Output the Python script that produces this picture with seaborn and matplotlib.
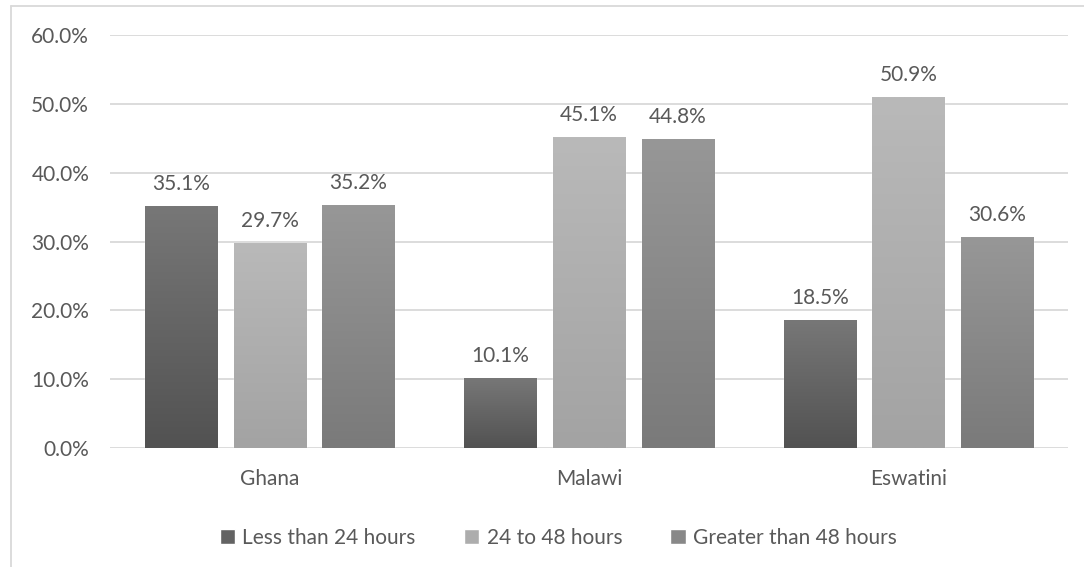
import matplotlib
matplotlib.use("Agg")
import matplotlib.pyplot as plt
from matplotlib.colors import LinearSegmentedColormap
from matplotlib.lines import Line2D
import numpy as np
import pandas as pd
import seaborn as sns

countries   = ["Ghana", "Malawi", "Eswatini"]
durations   = ["Less than 24 hours", "24 to 48 hours", "Greater than 48 hours"]
less_24     = [35.1, 10.1, 18.5]
from_24_48  = [29.7, 45.1, 50.9]
greater_48  = [35.2, 44.8, 30.6]

# top / bottom colours of each bar gradient
grad_top    = ["#777777", "#b9b9b9", "#979797"]
grad_bottom = ["#525252", "#a3a3a3", "#7a7a7a"]
mid_colors  = ["#636363", "#adadad", "#888888"]
text_color  = "#595959"
grid_color  = "#d9d9d9"
fs          = 15

df = pd.DataFrame({
    "Country"  : countries * 3,
    "Duration" : [d for d in durations for _ in countries],
    "Share"    : [v / 100 for v in less_24 + from_24_48 + greater_48],
})

sns.set_style("white")
plt.rcParams["font.family"] = ["Lato", "DejaVu Sans"]

fig = plt.figure(figsize=(10.84, 5.67), dpi=100)
ax = fig.add_axes([110 / 1084, 1 - 448 / 567, (1068 - 110) / 1084, (448 - 35) / 567])

sns.barplot(data=df, x="Country", y="Share", hue="Duration", order=countries, hue_order=durations,
            palette=mid_colors, width=0.832, gap=0.186, ax=ax, legend=True)

# vertical gradient on each bar
for i, container in enumerate(ax.containers):
    cmap = LinearSegmentedColormap.from_list("g{}".format(i), [grad_bottom[i], grad_top[i]])
    for rect in container:
        x0, y0 = rect.get_xy()
        w, h = rect.get_width(), rect.get_height()
        ax.imshow(np.linspace(0, 1, 200).reshape(-1, 1), extent=[x0, x0 + w, y0, y0 + h], origin="lower",
                  cmap=cmap, aspect="auto", zorder=2.5)
    ax.bar_label(container, labels=["{:.1f}%".format(v * 100) for v in container.datavalues],
                 padding=9, fontsize=fs, color=text_color)

ax.set_xlim(-0.5, 2.5)
ax.set_ylim(0, 0.6)
ax.set_yticks(np.arange(0, 0.61, 0.1))
ax.set_yticklabels(["{:.1f}%".format(t * 100) for t in np.arange(0, 0.61, 0.1)])
ax.yaxis.grid(True, color=grid_color, linewidth=1.3)
ax.set_axisbelow(True)
ax.tick_params(axis="both", length=0, labelsize=fs, labelcolor=text_color)
ax.tick_params(axis="y", pad=15)
ax.tick_params(axis="x", pad=15)
ax.set_xlabel("")
ax.set_ylabel("")
for s in ax.spines.values():
    s.set_visible(False)

handles, labels = ax.get_legend_handles_labels()
ax.legend_.remove()
fig.legend(handles, labels, loc="center", bbox_to_anchor=(0.515, 1 - 538 / 567), ncol=3, frameon=False,
           fontsize=fs, labelcolor=text_color, handlelength=0.75, handleheight=0.75, handletextpad=0.35,
           columnspacing=2.3)

# chart frame (top and left edges visible)
fig.add_artist(Line2D([11 / 1084, 1], [1 - 6 / 567, 1 - 6 / 567], color=grid_color, linewidth=1.3))
fig.add_artist(Line2D([11 / 1084, 11 / 1084], [0, 1 - 6 / 567], color=grid_color, linewidth=1.3))

fig.savefig("out.png", dpi=100)
